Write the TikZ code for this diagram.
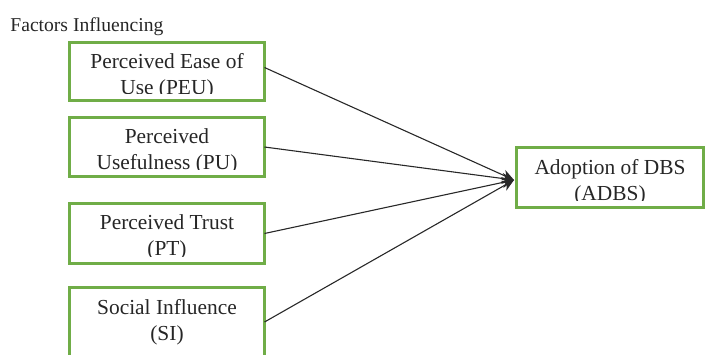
\documentclass[tikz,border=0pt]{standalone}
\usepackage{fontspec}
\setmainfont{Liberation Serif}
\usetikzlibrary{arrows.meta}
\definecolor{boxgreen}{RGB}{112,173,71}
\definecolor{linegray}{RGB}{40,40,40}
\begin{document}
\begin{tikzpicture}[x=0.5pt,y=-0.5pt,
  box/.style={draw=boxgreen, line width=1.5pt, outer sep=0pt, inner sep=0pt, minimum width=97.5pt},
  boxtext/.style={font=\fontsize{10.7pt}{13pt}\selectfont, align=center, anchor=base, inner sep=0pt, text=black!85},
  conn/.style={draw=linegray, line width=0.55pt, -{Stealth[length=6pt,width=5.5pt]}}
]
\useasboundingbox (0,0) rectangle (706,354);

\node[font=\fontsize{9.8pt}{12pt}\selectfont, anchor=base west, inner sep=0pt, text=black!85] (title) at (10,31) {Factors Influencing};

\node[box, minimum height=29pt] (peu) at (167,71.5) {};
\node[box, minimum height=29.5pt] (pu) at (167,147) {};
\node[box, minimum height=30pt] (pt) at (167,233.5) {};
\node[box, minimum height=34.5pt] (si) at (167,322) {};
\node[box, minimum width=93.5pt, minimum height=30pt] (adbs) at (610,177.5) {};

\begin{scope}
\clip (peu.north west) rectangle ([yshift=3.75pt]peu.south east);
\node[boxtext] (peut) at ([yshift=-25.75pt]peu.north) {Perceived Ease of\\Use (PEU)};
\end{scope}
\begin{scope}
\clip (pu.north west) rectangle ([yshift=3.75pt]pu.south east);
\node[boxtext] (put) at ([yshift=-25.75pt]pu.north) {Perceived\\Usefulness (PU)};
\end{scope}
\begin{scope}
\clip (pt.north west) rectangle ([yshift=3.75pt]pt.south east);
\node[boxtext] (ptt) at ([yshift=-25.75pt]pt.north) {Perceived Trust\\(PT)};
\end{scope}
\node[boxtext] (sit) at ([yshift=-26.5pt]si.north) {Social Influence\\(SI)};
\begin{scope}
\clip (adbs.north west) rectangle ([yshift=3.75pt]adbs.south east);
\node[boxtext] (adbst) at ([yshift=-26.5pt]adbs.north) {Adoption of DBS\\(ADBS)};
\end{scope}

\coordinate (tip) at (514,180);
\draw[conn] ([yshift=2pt]peu.east) -- (tip);
\draw[conn] (pu.east) -- (tip);
\draw[conn] (pt.east) -- (tip);
\draw[conn] (si.east) -- (tip);
\end{tikzpicture}
\end{document}
